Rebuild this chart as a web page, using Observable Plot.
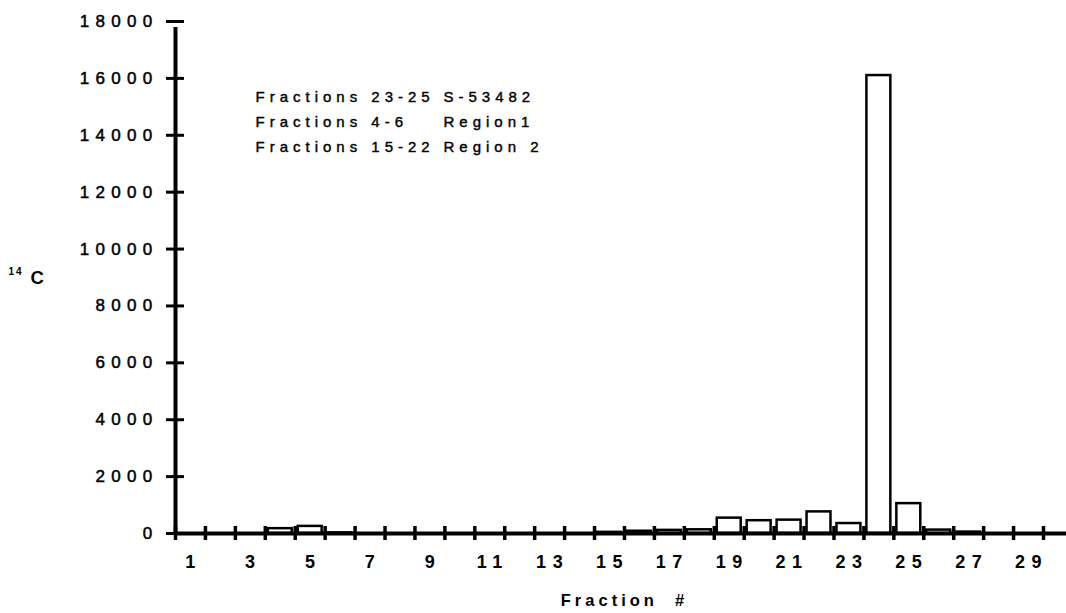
<!DOCTYPE html>
<html>
<head>
<meta charset="utf-8">
<script src="https://cdn.jsdelivr.net/npm/d3@7"></script>
<script src="https://cdn.jsdelivr.net/npm/@observablehq/plot@0.6"></script>
<style>
  html, body { margin: 0; padding: 0; background: #fff; }
  svg { font-family: "Liberation Sans", Arial, sans-serif; }
</style>
</head>
<body>
<div id="chart"></div>
<script>
// Fraction numbers and 14C counts
const fractions = [1,2,3,4,5,6,7,8,9,10,11,12,13,14,15,16,17,18,19,20,21,22,23,24,25,26,27,28,29];
const counts    = [0,0,0,170,250,20,0,0,0,0,0,0,0,0,40,80,110,130,540,450,470,760,350,16100,1050,120,50,0,0];
const yTicks = [0,2000,4000,6000,8000,10000,12000,14000,16000,18000];
const xLabels = [1,3,5,7,9,11,13,15,17,19,21,23,25,27,29];
const xBoundaries = [1,2,3,4,5,6,7,8,9,10,11,12,13,14,15,16,17,18,19,20,21,22,23,24,25,26,27,28,29,30];
const legendLeft = ["Fractions 23-25", "Fractions 4-6", "Fractions 15-22"];
const legendRight = ["S-53482", "Region1", "Region 2"];
const xTitle = "Fraction  #";
const yTitleSup = "14";
const yTitle = "C";

const data = fractions.map((f, i) => ({fraction: f, value: counts[i]}));

const chart = Plot.plot({
  width: 1066,
  height: 613,
  marginLeft: 175,
  marginRight: 23,
  marginTop: 21,
  marginBottom: 80,
  x: {type: "linear", domain: [1, 30], axis: null},
  y: {domain: [0, 18000], axis: null},
  marks: [
    Plot.rectY(data, {x1: d => d.fraction, x2: d => d.fraction + 1, y: "value",
      fill: "white", stroke: "black", strokeWidth: 2.5, insetLeft: 3, insetRight: 3}),
    Plot.ruleY([0], {x1: 1, x2: 31, stroke: "black", strokeWidth: 4}),
    Plot.ruleX([1], {y1: 0, y2: 18000, stroke: "black", strokeWidth: 4, insetBottom: -6}),
    Plot.ruleY(yTicks, {y: d => d, x1: 1, x2: 1, insetLeft: -9, insetRight: -9, stroke: "black", strokeWidth: 3}),
    Plot.ruleX(xBoundaries, {x: d => d, y1: 0, y2: 0, insetTop: -7, insetBottom: -7, stroke: "black", strokeWidth: 3.5}),
    Plot.text(yTicks, {y: d => d, text: d => String(d), frameAnchor: "left", textAnchor: "end",
      dx: -17, fontSize: 17, fill: "black", stroke: "black", strokeWidth: 0.5}),
    Plot.text(xLabels, {x: d => d + 0.5, text: d => String(d), frameAnchor: "bottom", lineAnchor: "top",
      dy: 22, dx: 3, fontSize: 18, fontWeight: "bold", fill: "black"}),
    Plot.text([legendLeft.join("\n")], {frameAnchor: "top-left", textAnchor: "start", lineAnchor: "top",
      dx: 80, dy: 63, lineHeight: 1.667, fontSize: 15, fill: "black", stroke: "black", strokeWidth: 0.4}),
    Plot.text([legendRight.join("\n")], {frameAnchor: "top-left", textAnchor: "start", lineAnchor: "top",
      dx: 268, dy: 63, lineHeight: 1.667, fontSize: 15, fill: "black", stroke: "black", strokeWidth: 0.4}),
    Plot.text([xTitle], {frameAnchor: "bottom", lineAnchor: "top", dy: 61, dx: 15, fontSize: 16.5,
      fontWeight: "bold", fill: "black", text: d => d}),
    Plot.text([yTitle], {frameAnchor: "left", textAnchor: "start", dx: -145, dy: 1, fontSize: 18.5,
      fontWeight: "bold", fill: "black", text: d => d}),
    Plot.text([yTitleSup], {frameAnchor: "left", textAnchor: "start", dx: -167, dy: -6, fontSize: 10,
      fontWeight: "bold", fill: "black", text: d => d})
  ]
});
// letter spacing of the typewriter-like lettering, keyed by font size of each text group
const spacingBySize = {"17": "6.3px", "18": "6.5px", "15": "5px", "16.5": "4px", "10": "2px"};
chart.querySelectorAll("g[font-size]").forEach(g => {
  const ls = spacingBySize[g.getAttribute("font-size")];
  if (ls) g.style.letterSpacing = ls;
});
document.getElementById("chart").appendChild(chart);
</script>
</body>
</html>
